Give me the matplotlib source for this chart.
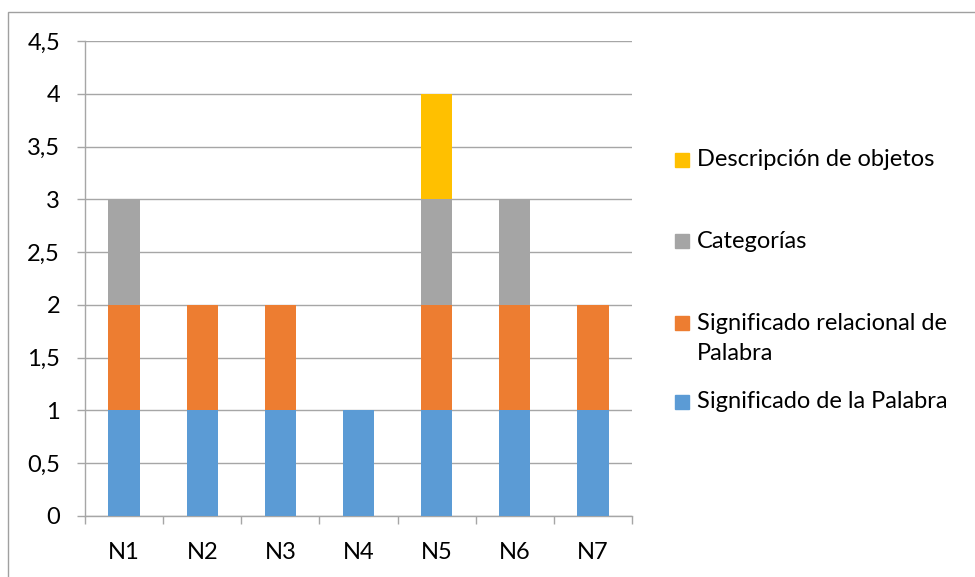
import numpy as np
import matplotlib.pyplot as plt
from matplotlib.patches import Rectangle

plt.rcParams['font.family'] = ['Lato', 'DejaVu Sans']

# data
categories = ['N1', 'N2', 'N3', 'N4', 'N5', 'N6', 'N7']
significado = [1, 1, 1, 1, 1, 1, 1]
relacional = [1, 1, 1, 0, 1, 1, 1]
categorias = [1, 0, 0, 0, 1, 1, 0]
descripcion = [0, 0, 0, 0, 1, 0, 0]

series = [
    ('Significado de la Palabra', significado, '#5B9BD5'),
    ('Significado relacional de\nPalabra', relacional, '#ED7D31'),
    ('Categorías', categorias, '#A5A5A5'),
    ('Descripción de objetos', descripcion, '#FFC000'),
]
yticks = [0, 0.5, 1, 1.5, 2, 2.5, 3, 3.5, 4, 4.5]
ytick_labels = ['0', '0,5', '1', '1,5', '2', '2,5', '3', '3,5', '4', '4,5']

W, H = 975, 577
fig = plt.figure(figsize=(W / 100, H / 100), dpi=100)
fig.patches.append(Rectangle((8 / W, -0.1), 1.1, 1 - 12 / H + 0.1, transform=fig.transFigure,
                             fill=False, edgecolor='#A0A0A0', lw=1))

ax = fig.add_axes([85 / W, 61 / H, 547 / W, 475 / H])
x = np.arange(len(categories))
bottom = np.zeros(len(categories))
for name, vals, col in series:
    vals = np.array(vals, dtype=float)
    ax.bar(x, vals, 0.4, bottom=bottom, color=col, lw=0, zorder=3)
    bottom += vals

ax.set_xlim(-0.5, 6.5)
ax.set_ylim(0, 4.5)
ax.set_yticks(yticks)
ax.set_yticklabels(ytick_labels)
ax.set_xticks(x)
ax.set_xticklabels(categories)
ax.set_xticks(np.arange(-0.5, 7, 1), minor=True)
ax.grid(axis='y', color='#A6A6A6', lw=1, zorder=0)
for s in ['top', 'right']:
    ax.spines[s].set_visible(False)
for s in ['left', 'bottom']:
    ax.spines[s].set_color('#A6A6A6')
    ax.spines[s].set_linewidth(1)
ax.tick_params(axis='y', length=6, width=1, color='#A6A6A6', pad=12, labelsize=17)
ax.tick_params(axis='x', which='major', length=0, pad=19, labelsize=17)
ax.tick_params(axis='x', which='minor', length=6, width=1, color='#A6A6A6')

# legend
leg = [
    (['Descripción de objetos'], '#FFC000', 160),
    (['Categorías'], '#A5A5A5', 241),
    (['Significado relacional de', 'Palabra'], '#ED7D31', 323),
    (['Significado de la Palabra'], '#5B9BD5', 402),
]
for lines, col, yc in leg:
    fig.patches.append(Rectangle((675 / W, 1 - (yc + 7) / H), 14 / W, 14 / H,
                                 transform=fig.transFigure, color=col))
    for i, line in enumerate(lines):
        fig.text(697 / W, 1 - (yc + 30 * i) / H, line, fontsize=17,
                 va='center', ha='left')

fig.savefig('out.png', dpi=100)
